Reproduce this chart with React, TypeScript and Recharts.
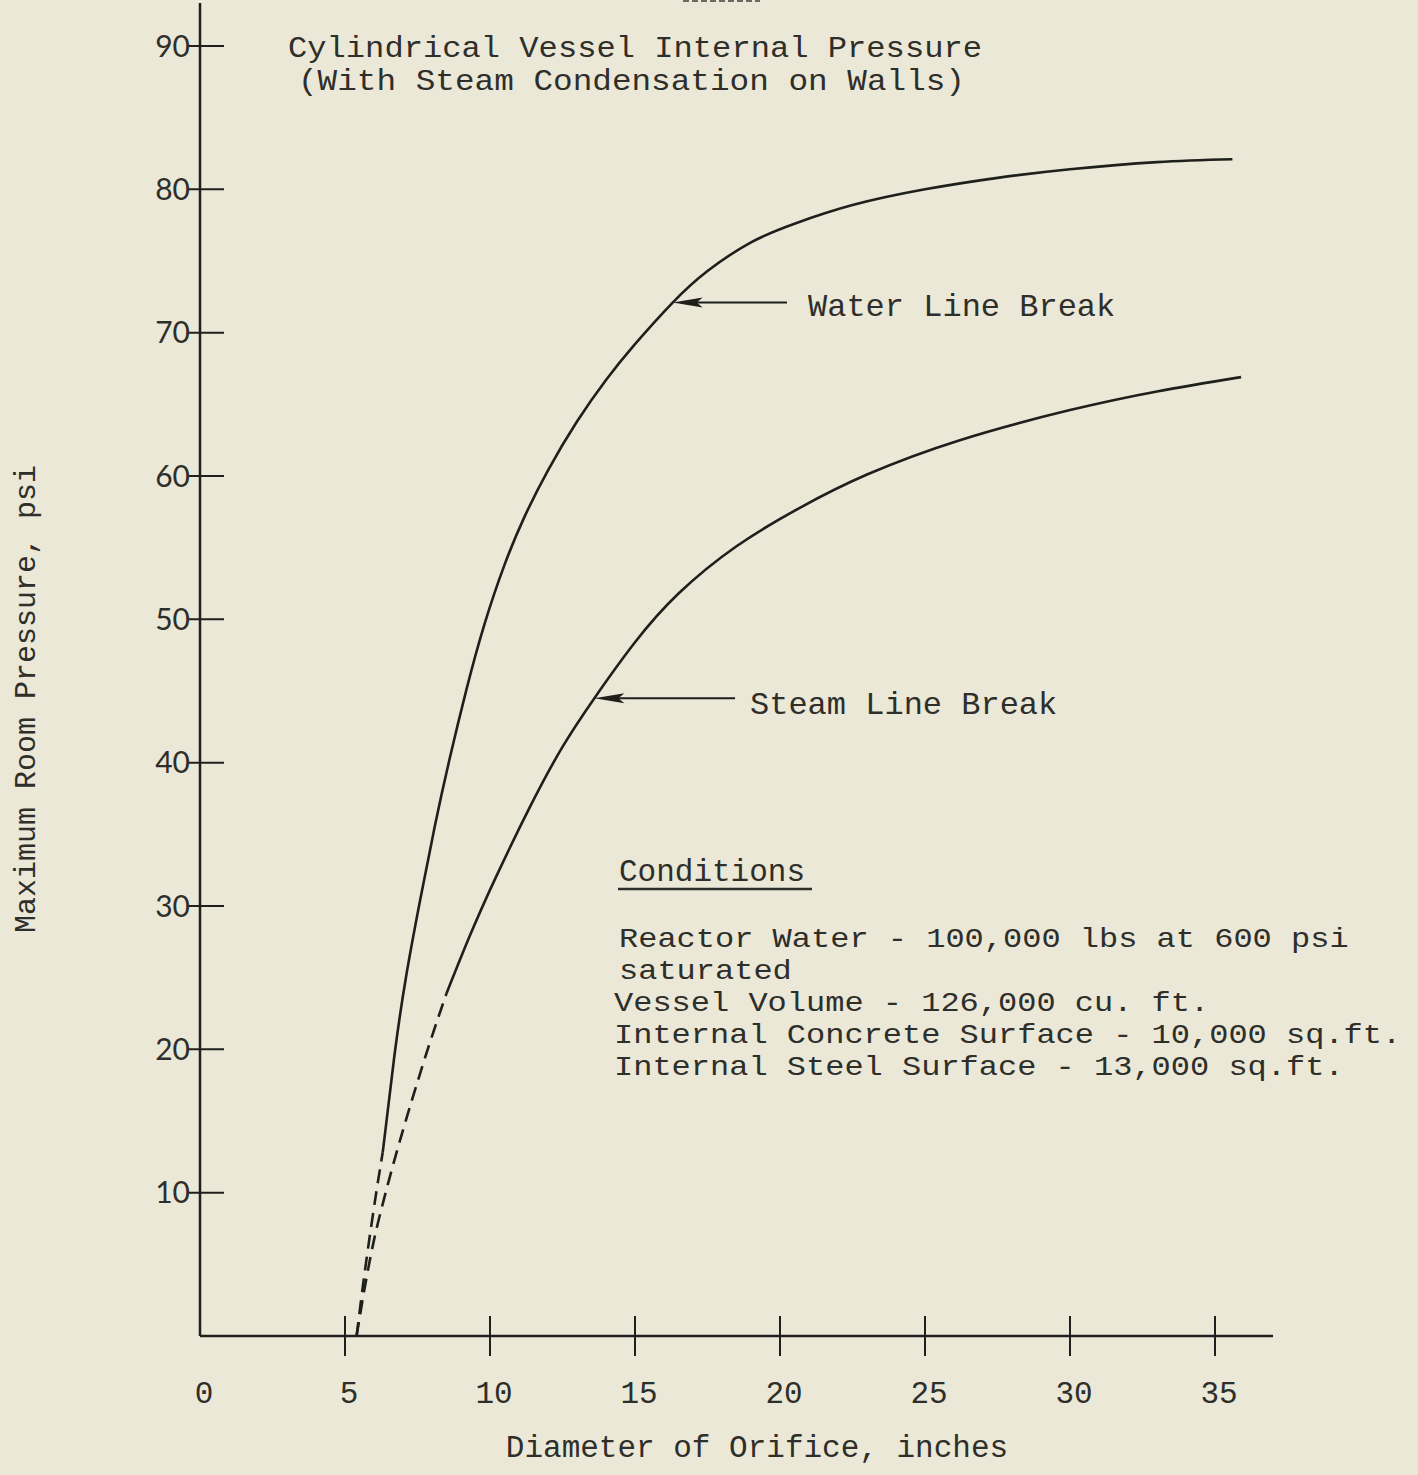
import React from 'react';
import { LineChart, Line, XAxis, YAxis, ReferenceLine, ReferenceDot } from 'recharts';

// ---- data (diameter of orifice, inches  /  maximum room pressure, psi) ----
const waterDashedX = [5.4, 5.65, 5.9, 6.1, 6.3];
const waterDashedP = [0, 4, 7.6, 10.3, 12.8];
const waterSolidX = [6.3, 6.7, 7.1, 7.6, 8.1, 8.6, 9.2, 9.8, 10.5, 11.2, 12.0, 13.0, 14.0, 15.0, 16.3, 17.5, 19.0, 20.5, 22.5, 25.0, 27.5, 30.0, 33.0, 35.6];
const waterSolidP = [12.8, 19.5, 25, 30.5, 35.6, 40.2, 45.2, 49.6, 53.8, 57.2, 60.4, 63.8, 66.7, 69.2, 72.1, 74.3, 76.3, 77.6, 78.9, 80.0, 80.8, 81.4, 81.9, 82.1];

const steamDashedX = [5.4, 5.7, 6.0, 6.35, 6.75, 7.3, 7.9, 8.5];
const steamDashedP = [0, 3.6, 6.7, 9.6, 12.6, 16.4, 20.3, 23.9];
const steamSolidX = [8.5, 9.3, 10.2, 11.4, 12.5, 13.6, 15.0, 16.5, 18.5, 20.7, 23.0, 26.2, 30.0, 33.0, 35.9];
const steamSolidP = [23.9, 27.9, 32.0, 37.0, 41.1, 44.5, 48.4, 51.8, 55.1, 57.8, 60.1, 62.5, 64.6, 65.9, 66.9];

const xTicks = [0, 5, 10, 15, 20, 25, 30, 35];
const yTicks = [10, 20, 30, 40, 50, 60, 70, 80, 90];

const waterArrow = { tipX: 16.3, tipY: 72.1, tailX: 20.24 };
const steamArrow = { tipX: 13.6, tipY: 44.5, tailX: 18.45 };

const conditionsLines = [
  'Reactor Water - 100,000 lbs at 600 psi',
  'saturated',
  'Vessel Volume - 126,000 cu. ft.',
  'Internal Concrete Surface - 10,000 sq.ft.',
  'Internal Steel Surface - 13,000 sq.ft.',
];

const zip = (xs: number[], ps: number[]) => xs.map((x, i) => ({ x, p: ps[i] }));
const waterDashed = zip(waterDashedX, waterDashedP);
const waterSolid = zip(waterSolidX, waterSolidP);
const steamDashed = zip(steamDashedX, steamDashedP);
const steamSolid = zip(steamSolidX, steamSolidP);

const INK = '#1f1f1c';
const TEXT = '#2e2e2a';
const PAPER = '#ebe8d7';
const MONO = '"Liberation Mono", "DejaVu Sans Mono", monospace';
const CHAR_W = 19.2;

const XTick = (props: any) => {
  const { x, y, payload } = props;
  const v = payload.value;
  return (
    <g>
      {v !== 0 && <line x1={x} x2={x} y1={y - 20} y2={y + 20} stroke={INK} strokeWidth={2} />}
      <text x={x + 4} y={y + 67} textAnchor="middle" fontFamily={MONO} fontSize={31} fill={TEXT}>
        {v}
      </text>
    </g>
  );
};

const YTick = (props: any) => {
  const { x, y, payload } = props;
  return (
    <g>
      <line x1={x - 12} x2={x + 24} y1={y} y2={y} stroke={INK} strokeWidth={2} />
      <text x={x - 10} y={y} dy="0.36em" textAnchor="end" fontFamily='Lato, "DejaVu Sans", sans-serif' fontSize={30} fill={TEXT}>
        {payload.value}
      </text>
    </g>
  );
};

const ArrowHead = (props: any) => {
  const { cx, cy } = props;
  if (cx == null || cy == null) return null;
  return <path d={`M ${cx} ${cy} L ${cx + 30} ${cy - 5} L ${cx + 24} ${cy} L ${cx + 30} ${cy + 5} Z`} fill={INK} />;
};

export default function App() {
  return (
    <div style={{ position: 'absolute', left: 0, top: 0, width: 1418, height: 1475, background: PAPER }}>
      <LineChart
        width={1418}
        height={1475}
        margin={{ top: 3, right: 145, bottom: 109, left: 140 }}
      >
        <XAxis
          type="number"
          dataKey="x"
          domain={[0, 37]}
          ticks={xTicks}
          allowDataOverflow
          height={30}
          tickSize={0}
          tickMargin={0}
          tickLine={false}
          axisLine={{ stroke: INK, strokeWidth: 2.5 }}
          tick={<XTick />}
          interval={0}
        />
        <YAxis
          type="number"
          dataKey="p"
          domain={[0, 93]}
          ticks={yTicks}
          allowDataOverflow
          width={60}
          tickSize={0}
          tickMargin={0}
          tickLine={false}
          axisLine={{ stroke: INK, strokeWidth: 2.5 }}
          tick={<YTick />}
          interval={0}
        />
        <Line data={waterDashed} dataKey="p" type="monotone" stroke={INK} strokeWidth={2.6} strokeDasharray="14 8" dot={false} isAnimationActive={false} />
        <Line data={waterSolid} dataKey="p" type="natural" stroke={INK} strokeWidth={2.6} dot={false} isAnimationActive={false} />
        <Line data={steamDashed} dataKey="p" type="monotone" stroke={INK} strokeWidth={2.6} strokeDasharray="14 8" dot={false} isAnimationActive={false} />
        <Line data={steamSolid} dataKey="p" type="natural" stroke={INK} strokeWidth={2.6} dot={false} isAnimationActive={false} />
        <ReferenceLine
          segment={[{ x: waterArrow.tipX + 0.6, y: waterArrow.tipY }, { x: waterArrow.tailX, y: waterArrow.tipY }]}
          stroke={INK}
          strokeWidth={2}
        />
        <ReferenceDot x={waterArrow.tipX} y={waterArrow.tipY} r={1} shape={ArrowHead} />
        <ReferenceLine
          segment={[{ x: steamArrow.tipX + 0.6, y: steamArrow.tipY }, { x: steamArrow.tailX, y: steamArrow.tipY }]}
          stroke={INK}
          strokeWidth={2}
        />
        <ReferenceDot x={steamArrow.tipX} y={steamArrow.tipY} r={1} shape={ArrowHead} />
      </LineChart>
      <svg
        width={1418}
        height={1475}
        style={{ position: 'absolute', left: 0, top: 0, pointerEvents: 'none' }}
      >
        <line x1={683} x2={760} y1={1} y2={1} stroke="#6a6a60" strokeWidth={2} strokeDasharray="6 3" />
        <g fontFamily={MONO} fill={TEXT}>
          <text x={288} y={57} fontSize={29} textLength={694} lengthAdjust="spacingAndGlyphs">Cylindrical Vessel Internal Pressure</text>
          <text x={298} y={90} fontSize={29} textLength={667} lengthAdjust="spacingAndGlyphs">(With Steam Condensation on Walls)</text>
          <text x={808} y={316} fontSize={32}>Water Line Break</text>
          <text x={750} y={714} fontSize={32}>Steam Line Break</text>
          <text x={619} y={881} fontSize={31}>Conditions</text>
          <line x1={618} x2={812} y1={889} y2={889} stroke={TEXT} strokeWidth={2.5} />
          {conditionsLines.map((t, i) => (
            <text
              key={i}
              x={i < 2 ? 619 : 614}
              y={947 + i * 32}
              fontSize={28}
              textLength={t.length * CHAR_W}
              lengthAdjust="spacingAndGlyphs"
            >
              {t}
            </text>
          ))}
          <text x={757} y={1457} fontSize={31} textAnchor="middle">Diameter of Orifice, inches</text>
          <text transform="translate(35,699) rotate(-90)" fontSize={30} textAnchor="middle">Maximum Room Pressure, psi</text>
        </g>
      </svg>
    </div>
  );
}
